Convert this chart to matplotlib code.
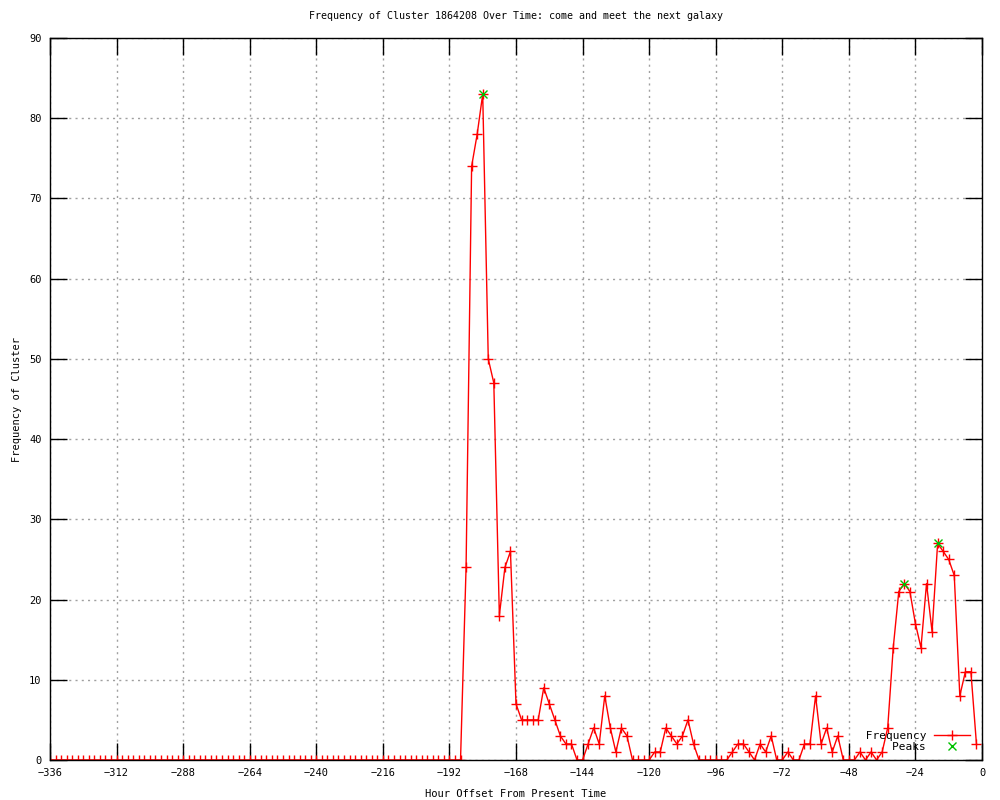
import numpy as np
import matplotlib
matplotlib.use('Agg')
import matplotlib.pyplot as plt

# hourly offsets, one reading every 2 hours
hours = list(range(-336, 0, 2))

# frequency readings
freq = ([0] * 75 +
        [24, 74, 78, 83, 50, 47, 18, 24, 26, 7,
         5, 5, 5, 5, 9, 7, 5, 3, 2, 2,
         0, 0, 2, 4, 2, 8, 4, 1, 4, 3,
         0, 0, 0, 0, 1, 1, 4, 3, 2, 3,
         5, 2, 0, 0, 0, 0, 0, 0, 1, 2,
         2, 1, 0, 2, 1, 3, 0, 0, 1, 0,
         0, 2, 2, 8, 2, 4, 1, 3, 0, 0,
         0, 1, 0, 1, 0, 1, 4, 14, 21, 22,
         21, 17, 14, 22, 16, 27, 26, 25, 23, 8,
         11, 11, 2])

peak_hours = [-180, -28, -16]
peak_vals = [83, 22, 27]

x_ticks = list(range(-336, 1, 24))
y_ticks = list(range(0, 91, 10))

FONT = 'DejaVu Sans Mono'
FS = 7.5

fig = plt.figure(figsize=(10, 8), dpi=100)
ax = fig.add_axes([0.05, 0.05, 0.932, 0.9025])

ax.plot(hours, freq, color='red', linewidth=1, marker='+', markersize=7,
        markeredgewidth=1, label=' Frequency')
ax.plot(peak_hours, peak_vals, linestyle='none', color='#00c000', marker='x',
        markersize=6, markeredgewidth=1, label='    Peaks')

ax.set_xlim(-336, 0)
ax.set_ylim(0, 90)
ax.set_xticks(x_ticks)
ax.set_yticks(y_ticks)
ax.tick_params(direction='in', length=12, width=1, top=True, right=True,
               labelsize=FS, pad=6)
for lab in ax.get_xticklabels() + ax.get_yticklabels():
    lab.set_family(FONT)
ax.grid(True, color='#a0a0a0', linestyle=(0, (1.5, 3)), linewidth=1)
for s in ax.spines.values():
    s.set_linewidth(1)
    s.set_color('black')

ax.set_title('Frequency of Cluster 1864208 Over Time: come and meet the next galaxy',
             fontsize=7.2, family=FONT, pad=14)
ax.set_xlabel('Hour Offset From Present Time', fontsize=FS, family=FONT, labelpad=8)
ax.set_ylabel('Frequency of Cluster', fontsize=FS, family=FONT, labelpad=5)

leg = ax.legend(loc='lower right', bbox_to_anchor=(0.995, 0.0), frameon=False,
                markerfirst=False, numpoints=1, handlelength=3.2,
                prop={'family': FONT, 'size': FS + 0.5}, labelspacing=0.1,
                handletextpad=0.7, borderaxespad=0.3)

fig.savefig('out.png', dpi=100)
